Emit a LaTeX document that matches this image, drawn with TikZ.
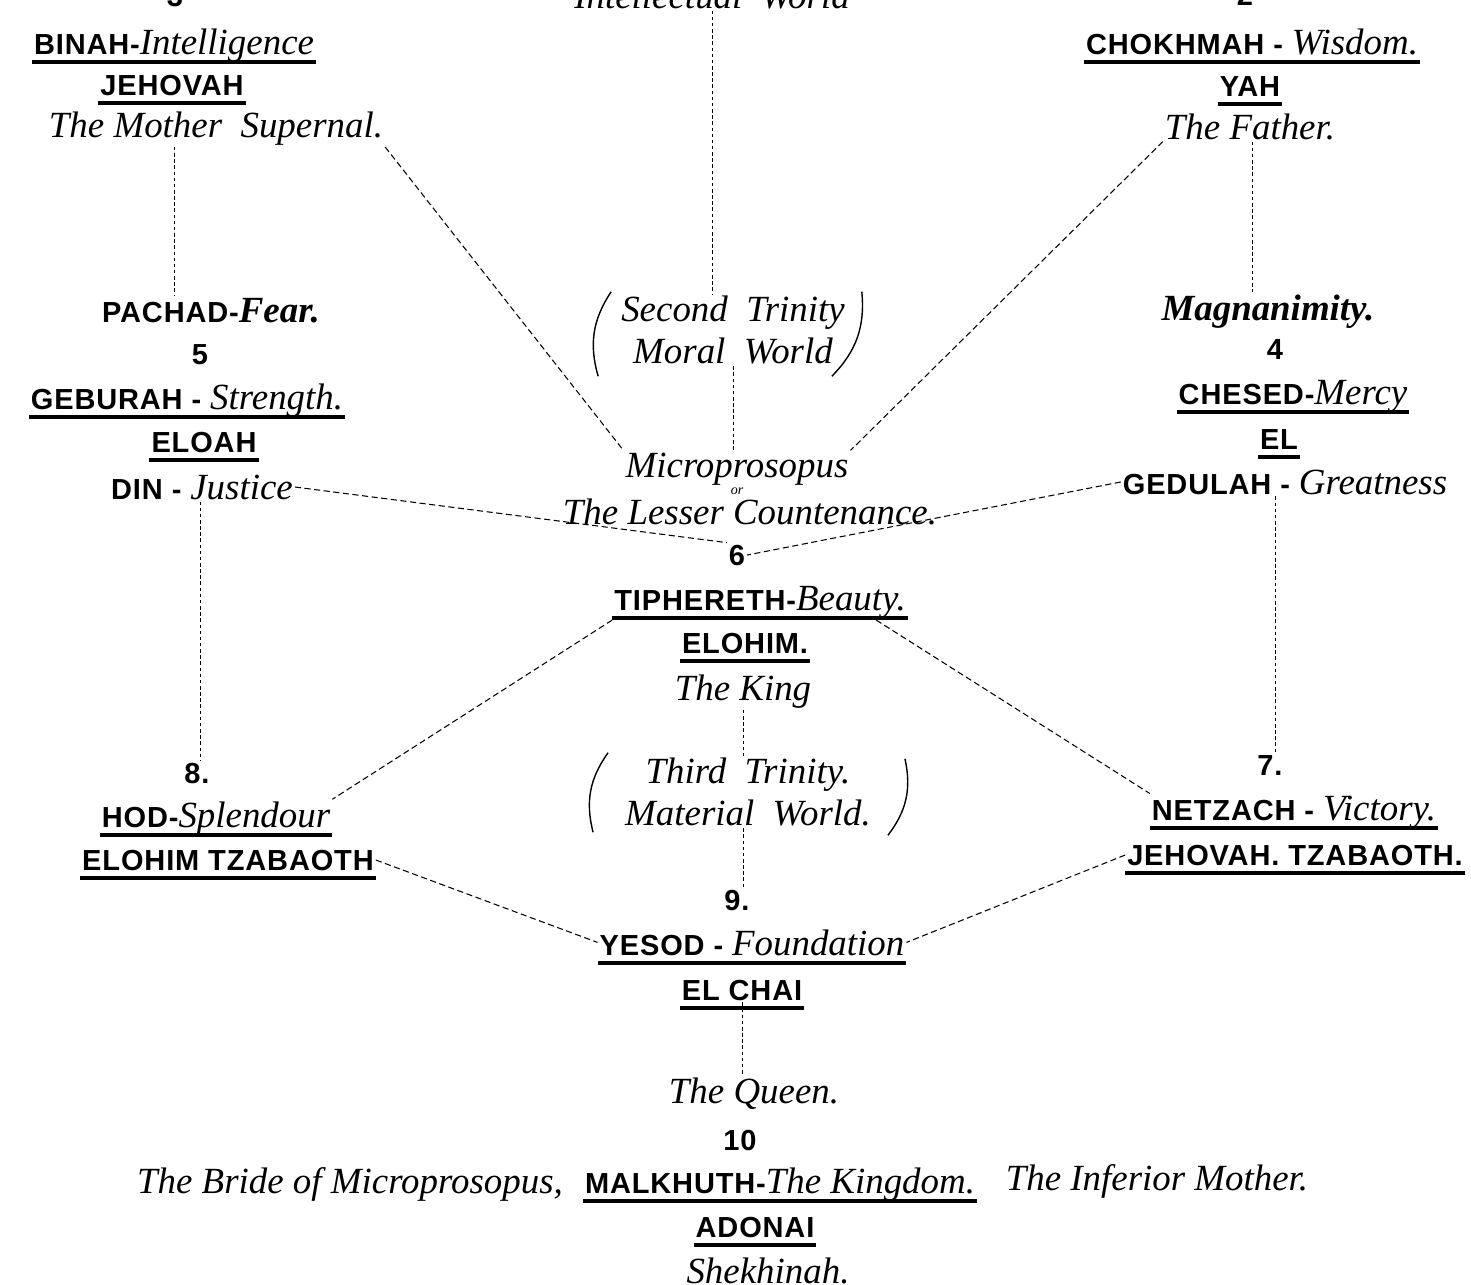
\documentclass[tikz,border=0pt]{standalone}
\usepackage{fontspec}
\setmainfont{Liberation Serif}
\setsansfont{Liberation Sans}[LetterSpace=3]
\usepackage{tikz}

\newcommand{\trans}[1]{{\rmfamily\mdseries\itshape\fontsize{21}{24}\selectfont #1}}

\begin{document}
\begin{tikzpicture}[x=0.02cm,y=-0.02cm,
		capsline/.style={font=\sffamily\bfseries\fontsize{16.5}{19}\selectfont,inner sep=1pt,anchor=base},
		word/.style={font=\itshape\fontsize{21}{24}\selectfont,inner sep=1pt,anchor=base},
		ul/.style={append after command={([yshift=-4.5pt]\tikzlastnode.base west) edge[uline] ([yshift=-4.5pt]\tikzlastnode.base east)}},
		uline/.style={line width=1.9pt},
		link/.style={line width=0.6pt,dash pattern=on 3.5pt off 2pt},
		vlink/.style={line width=0.5pt,dash pattern=on 2pt off 1.5pt},
		paren/.style={line width=0.8pt}]
		\useasboundingbox (0,0) rectangle (1471,1285);
		\clip (0,0) rectangle (1471,1285);
		
		% first trinity, cut off at the top
		\node[capsline]	(three)		at (175,6)		{3};
		\node[capsline]	(two)		at (1245,5)		{2};
		\node[word]	(trinOne)	at (712,8)		{Intellectual\ \ World};
		
		\node[capsline,ul]	(binah)		at (174,54)		{BINAH-\trans{Intelligence}};
		\node[capsline,ul]	(jehovah)	at (172,95)		{JEHOVAH};
		\node[word]		(mother)	at (216,137)	{The Mother\ \ Supernal.};
		
		\node[capsline,ul]	(chokhmah)	at (1252,54)	{CHOKHMAH - \trans{Wisdom.}};
		\node[capsline,ul]	(yah)		at (1250,96)	{YAH};
		\node[word]		(father)	at (1250,139)	{The Father.};
		
		\node[capsline]		(pachad)	at (211,322)	{PACHAD-\trans{\bfseries Fear.}};
		\node[capsline]		(five)		at (200,364)	{5};
		\node[capsline,ul]	(geburah)	at (187,409)	{GEBURAH - \trans{Strength.}};
		\node[capsline,ul]	(eloah)		at (204,452)	{ELOAH};
		\node[capsline]		(din)		at (202,499)	{DIN - \trans{Justice}};
		
		\node[word]		(magna)		at (1268,320)	{\bfseries Magnanimity.};
		\node[capsline]		(four)		at (1275,359)	{4};
		\node[capsline,ul]	(chesed)	at (1293,404)	{CHESED-\trans{Mercy}};
		\node[capsline,ul]	(el)		at (1279,449)	{EL};
		\node[capsline]		(gedulah)	at (1285,494)	{GEDULAH - \trans{Greatness}};
		
		\node[word,anchor=center,align=center] (trinTwo) at (733,330) {Second\ \ Trinity\\Moral\ \ World};
		\node[word]		(micro)		at (737,477)	{Microprosopus};
		\node[word,font=\itshape\fontsize{8}{9}\selectfont] (or) at (737,494) {or};
		\node[word]		(lesser)	at (750,524)	{The Lesser Countenance.};
		
		\node[capsline]		(six)		at (737,565)	{6};
		\node[capsline,ul]	(tiph)		at (760,610)	{TIPHERETH-\trans{Beauty.}};
		\node[capsline,ul]	(elohim)	at (745,653)	{ELOHIM.};
		\node[word]		(king)		at (743,700)	{The King};
		
		\node[word,anchor=center,align=center] (trinThree) at (748,792) {Third\ \ Trinity.\\Material\ \ World.};
		
		\node[capsline]		(eight)		at (197,783)	{8.};
		\node[capsline,ul]	(hod)		at (216,827)	{HOD-\trans{Splendour}};
		\node[capsline,ul]	(elohimtz)	at (228,870)	{ELOHIM TZABAOTH};
		
		\node[capsline]		(seven)		at (1270,775)	{7.};
		\node[capsline,ul]	(netzach)	at (1294,820)	{NETZACH - \trans{Victory.}};
		\node[capsline,ul]	(jtz)		at (1295,865)	{JEHOVAH. TZABAOTH.};
		
		\node[capsline]		(nine)		at (737,910)	{9.};
		\node[capsline,ul]	(yesod)		at (752,955)	{YESOD - \trans{Foundation}};
		\node[capsline,ul]	(elchai)	at (742,1000)	{EL CHAI};
		
		\node[word]		(queen)		at (754,1103)	{The Queen.};
		\node[capsline]		(ten)		at (740,1150)	{10};
		\node[word]		(bride)		at (350,1193)	{The Bride of Microprosopus,};
		\node[capsline,ul]	(malkhuth)	at (780,1193)	{MALKHUTH-\trans{The Kingdom.}};
		\node[word]		(inferior)	at (1157,1190)	{The Inferior Mother.};
		\node[capsline,ul]	(adonai)	at (755,1237)	{ADONAI};
		\node[word]		(shekhinah)	at (768,1283)	{Shekhinah.};
		
		% brackets round the trinities
		\draw[paren] ([shift={(-8,-2)}]trinTwo.north west) to[bend right=25] ([shift={(-21,10)}]trinTwo.south west);
		\draw[paren] ([shift={(15,-2)}]trinTwo.north east) to[bend left=25] ([shift={(-15,10)}]trinTwo.south east);
		\draw[paren] ([shift={(-15,-3)}]trinThree.north west) to[bend right=25] ([shift={(-30,4)}]trinThree.south west);
		\draw[paren] ([shift={(32,3)}]trinThree.north east) to[bend left=25] ([shift={(15,7)}]trinThree.south east);
		
		\draw[vlink] (trinOne.south) -- (trinOne.south |- trinTwo.north);
		\draw[vlink] (binah.south |- mother.south) -- (binah.south |- pachad.north);
		\draw[vlink] (chokhmah.south |- father.south) -- (chokhmah.south |- magna.north);
		\draw[link] (mother.south east) -- (micro.north west);
		\draw[link] (father.south west) -- (micro.north east);
		\draw[vlink] (trinTwo.south) -- (trinTwo.south |- micro.north);
		\draw[link] (din.east) -- (six.north west);
		\draw[link] (gedulah.west) -- (six.east);
		\draw[vlink] (five |- din.south) -- (five |- eight.north);
		\draw[vlink] (four |- gedulah.south) -- (four |- seven.north);
		\draw[link] (tiph.south west) -- (hod.north east);
		\draw[link] ([xshift=-18pt]tiph.south east) -- (netzach.north west);
		\draw[vlink] (king.south) -- (king.south |- trinThree.north);
		\draw[vlink] (king.south |- trinThree.south) -- (king.south |- nine.north);
		\draw[link] (elohimtz.east) -- (yesod.west);
		\draw[link] (jtz.west) -- (yesod.east);
		\draw[vlink] (elchai.south) -- (elchai.south |- queen.north);
\end{tikzpicture}
\end{document}
